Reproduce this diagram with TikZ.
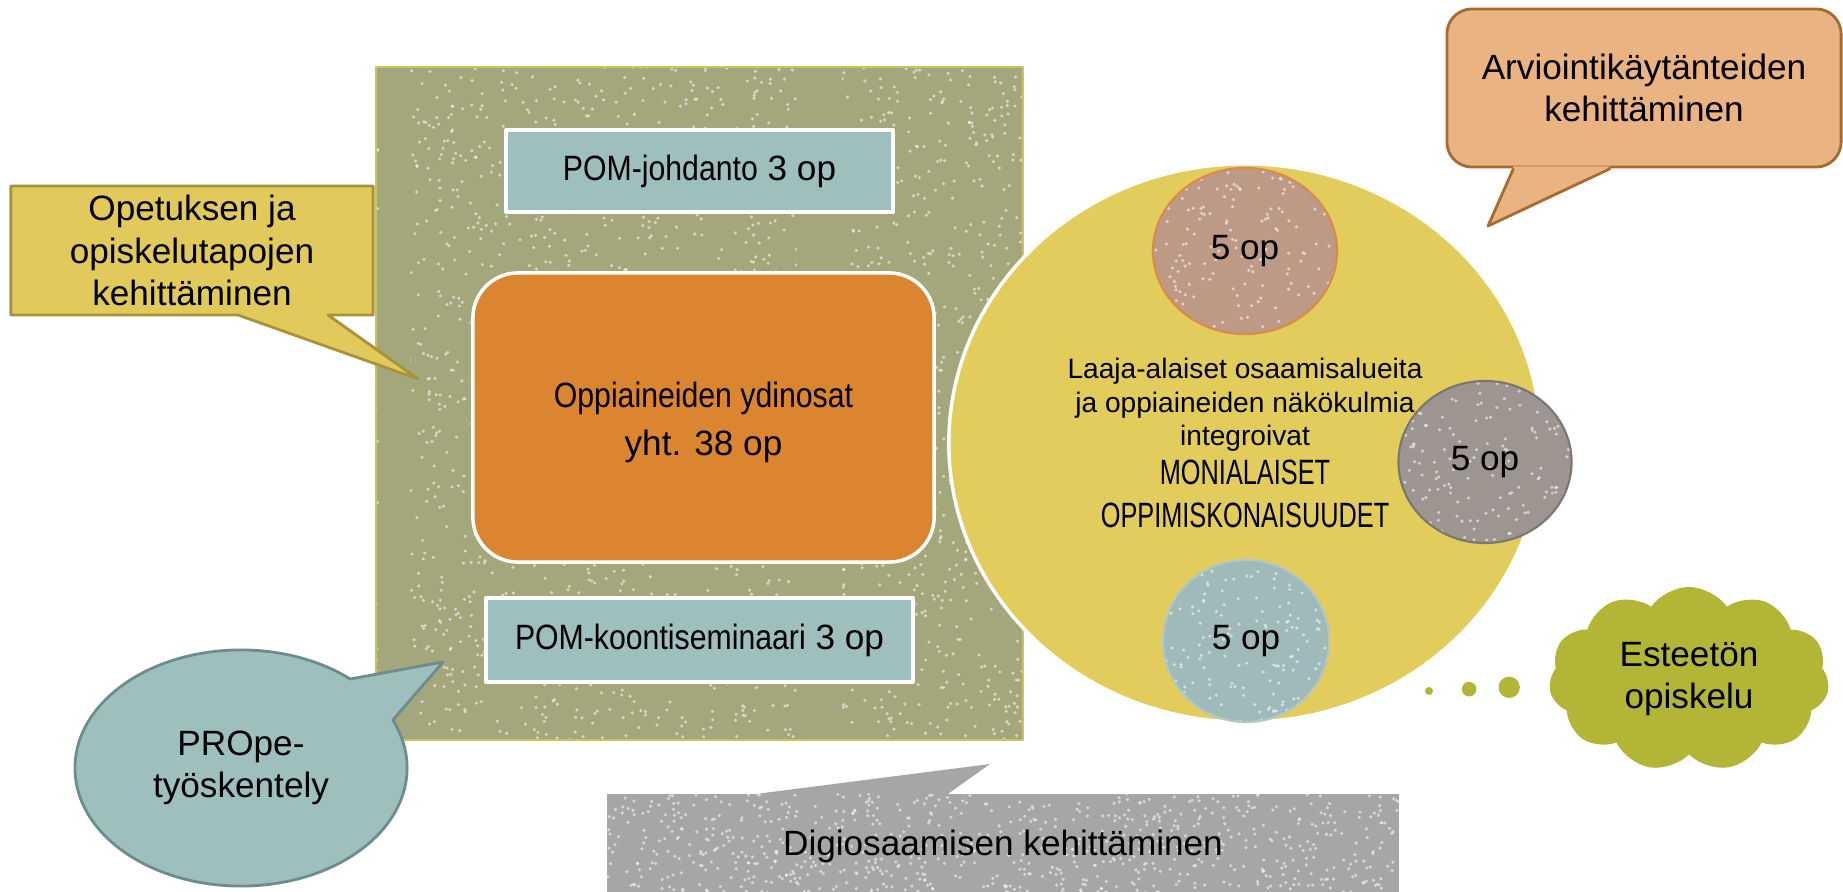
\documentclass[tikz,border=0pt]{standalone}
\usepackage{fontspec}
\setmainfont{Liberation Sans}
\newfontfamily\condfont[FakeStretch=0.86]{Liberation Sans}
\newfontfamily\capsfont[FakeStretch=0.72]{Liberation Sans}
\usetikzlibrary{shapes.geometric,shapes.callouts,shapes.symbols,calc}
\definecolor{panelolive}{HTML}{A4A67B}
\definecolor{panelline}{HTML}{C9C45C}
\definecolor{pomblue}{HTML}{9DBFBE}
\definecolor{coreorange}{HTML}{DB8531}
\definecolor{noteyellow}{HTML}{E2C95C}
\definecolor{noteyline}{HTML}{A8933A}
\definecolor{propeline}{HTML}{6E8C8C}
\definecolor{digigray}{HTML}{A6A6A6}
\definecolor{moniyellow}{HTML}{E1CC5C}
\definecolor{oprose}{HTML}{BD9A86}
\definecolor{oproseline}{HTML}{DA8B4A}
\definecolor{opgray}{HTML}{9D9590}
\definecolor{opgrayline}{HTML}{7D756F}
\definecolor{opblue}{HTML}{A0B9B9}
\definecolor{arvfill}{HTML}{E9B482}
\definecolor{arvline}{HTML}{A86A2E}
\definecolor{cloudgreen}{HTML}{B3B536}
\tikzset{
  pombox/.style={draw=white,line width=1pt,fill=pomblue,inner sep=0pt},
  opcircle/.style={ellipse,line width=0.6pt,inner sep=0pt,speckled=160},
  speck/.style={white,opacity=0.55},
  speckled/.style={path picture={
    \foreach \i in {1,...,#1}
      \fill[speck] let \p1=(path picture bounding box.south west), \p2=(path picture bounding box.north east) in
        ({\x1+rnd*(\x2-\x1)},{\y1+rnd*(\y2-\y1)}) circle (0.5pt);
  }}
}
\begin{document}
\begin{tikzpicture}[x=0.01cm,y=-0.01cm,line join=round]
\useasboundingbox (0,0) rectangle (1843,891);
\clip (0,0) rectangle (1843,891);
\pgfmathsetseed{17}
\node[draw=panelline,line width=0.5pt,fill=panelolive,minimum width=6.47cm,minimum height=6.73cm,inner sep=0pt,speckled=2200] (panel) at (699.5,403.5) {};
\fill[panelolive] (379,68) rectangle (410,739);
\fill[panelolive] (797,68) rectangle (842,739);
\node[pombox,minimum width=3.87cm,minimum height=0.82cm] (johdanto) at (699.5,171) {{\condfont POM-johdanto} 3 op};
\node[draw=white,line width=1pt,fill=coreorange,rounded corners=0.45cm,minimum width=4.61cm,minimum height=2.89cm,inner sep=0pt,align=center,text height=0.83cm] (ydin) at (703.5,417.5) {{\condfont Oppiaineiden ydinosat}\\[1.5pt]yht. 38 op};
\node[pombox,minimum width=4.27cm,minimum height=0.84cm] (koonti) at (699.5,640) {{\condfont POM-koontiseminaari} 3 op};
\node[rectangle callout,draw=noteyline,line width=0.8pt,fill=noteyellow,minimum width=3.62cm,minimum height=1.29cm,inner sep=0pt,align=center,callout absolute pointer={(418,379)},callout pointer width=0.9cm] (opetus) at (192,250.5) {Opetuksen ja\\opiskelutapojen\\kehittäminen};
\node[ellipse callout,draw=propeline,line width=0.8pt,fill=pomblue,minimum width=3.32cm,minimum height=2.36cm,inner sep=0pt,align=center,callout absolute pointer={(443,662)},callout pointer arc=25] (prope) at (241,768) {PROpe-\\työskentely};
\coordinate (digitip) at (990,764);
\fill[digigray] (740,796) -- (digitip) -- (945,796) -- cycle;
\node[fill=digigray,minimum width=7.92cm,minimum height=1.04cm,inner sep=0pt,speckled=800] (digi) at (1003,846) {Digiosaamisen kehittäminen};
\node[ellipse,draw=white,line width=1pt,fill=moniyellow,minimum width=5.92cm,minimum height=5.58cm,inner sep=0pt,align=center,font=\fontsize{8}{9.4}\selectfont] (moni) at (1245,443) {Laaja-alaiset osaamisalueita\\ja oppiaineiden näkökulmia\\integroivat\\[1.7pt]{\fontsize{10}{12}\capsfont MONIALAISET}\\[2.8pt]{\fontsize{10}{12}\capsfont OPPIMISKONAISUUDET}};
\node[opcircle,fill=oprose,draw=oproseline,minimum width=1.84cm,minimum height=1.66cm] (opA) at (1245,251) {5 op};
\node[opcircle,fill=opgray,draw=opgrayline,minimum width=1.73cm,minimum height=1.62cm] (opB) at (1485,462) {5 op};
\node[opcircle,fill=opblue,draw=opblue!80!white,minimum width=1.66cm,minimum height=1.62cm] (opC) at (1246,641) {5 op};
\node[draw=arvline,line width=0.8pt,fill=arvfill,rounded corners=0.25cm,minimum width=3.94cm,minimum height=1.58cm,inner sep=0pt,align=center] (arvi) at (1644,88) {Arviointikäytänteiden\\kehittäminen};
\coordinate (arvitip) at (1488,226);
\fill[arvfill] ($(arvi.south west)+(68,-2)$) -- (arvitip) -- ($(arvi.south west)+(165,-2)$) -- cycle;
\draw[arvline,line width=0.8pt] ($(arvi.south west)+(68,0)$) -- (arvitip) -- ($(arvi.south west)+(165,0)$);
\node[cloud callout,cloud puffs=11,cloud puff arc=110,aspect=1.5,fill=cloudgreen,minimum width=2.8cm,minimum height=1.84cm,inner sep=0pt,align=center,callout absolute pointer={(1429,691)},callout pointer start size=0.28cm,callout pointer end size=0.08cm,callout pointer segments=3] (esteeton) at (1689,679) {Esteetön\\opiskelu};
\end{tikzpicture}
\end{document}
